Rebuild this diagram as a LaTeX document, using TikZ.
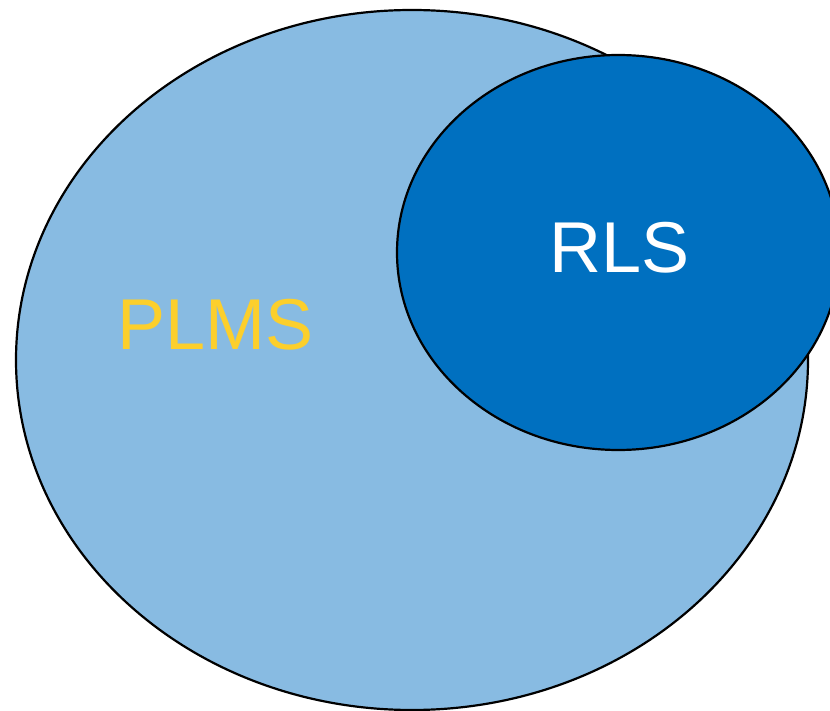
\documentclass[tikz,border=0pt]{standalone}
\usepackage{fontspec}
\setmainfont{Liberation Sans}
\definecolor{lightb}{HTML}{88BBE2}
\definecolor{darkb}{HTML}{0070C0}
\definecolor{yel}{HTML}{FCCF2C}
\begin{document}
\begin{tikzpicture}[x=1pt,y=-1pt,
  setshape/.style={draw=black,line width=2.2pt,ellipse},
  lbl/.style={font=\fontsize{72}{72}\selectfont,inner sep=0pt}]
\useasboundingbox (0,0) rectangle (830,711);
\begin{scope}
\clip (0,0) rectangle (830,711);
\draw[fill=lightb,line width=2.2pt] (412,360) ellipse [x radius=396, y radius=350];
\draw[fill=darkb,line width=2.2pt] (618.3,252.5) ellipse [x radius=221.3, y radius=197.5];
\end{scope}
\node[lbl,text=yel,anchor=base] (plms) at (215.5,349) {PLMS};
\node[lbl,text=white,anchor=base] (rls) at (619.5,273) {RLS};
\end{tikzpicture}
\end{document}
